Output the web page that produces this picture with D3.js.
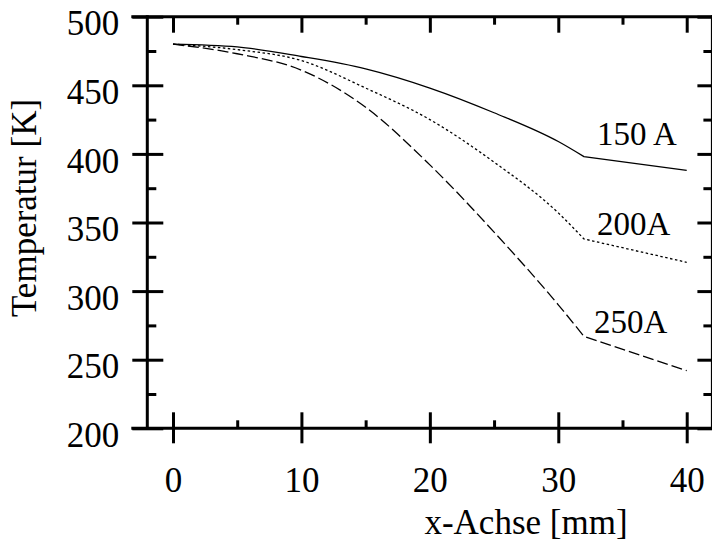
<!DOCTYPE html>
<html>
<head>
<meta charset="utf-8">
<script src="https://cdn.jsdelivr.net/npm/d3@7"></script>
<style>
  html, body { margin: 0; padding: 0; background: #fff; }
  svg { display: block; }
  svg text { fill: #000; }
</style>
</head>
<body>
<svg id="chart" width="712" height="539"></svg>
<script>
// ---- data ----
const xValues      = [0, 5, 10, 15, 20, 25, 30, 32, 40];
const series150A   = [480, 478, 471, 462, 448, 430, 409, 398, 388];
const series200A   = [480, 476, 468, 448, 425, 394, 357, 338, 321];
const series250A   = [480, 473, 461, 434, 392, 343, 290, 267, 242];
const seriesNames  = ["150 A", "200A", "250A"];
const xMajorTicks  = [0, 10, 20, 30, 40];
const xMinorTicks  = [5, 15, 25, 35];
const yMajorTicks  = [200, 250, 300, 350, 400, 450, 500];
const yMinorTicks  = [225, 275, 325, 375, 425, 475];
const xTitle = "x-Achse [mm]";
const yTitle = "Temperatur [K]";

const FONT = "Liberation Serif, DejaVu Serif, Noto Serif, Nimbus Roman, FreeSerif, Times New Roman, Times, serif";

// ---- layout ----
const svg = d3.select("#chart").attr("font-family", FONT);
const x = d3.scaleLinear().domain([-2, 42]).range([147.3, 712.4]);
const y = d3.scaleLinear().domain([200, 500]).range([428.3, 16.7]);
const L = x.range()[0], R = x.range()[1], T = y.range()[1], B = y.range()[0];

const tickFont = 35;

// left axis
const gL = svg.append("g").attr("transform", `translate(${L},0)`)
  .call(d3.axisLeft(y).tickValues(yMajorTicks).tickSizeInner(15).tickSizeOuter(0).tickPadding(13));
gL.attr("font-family", FONT);
gL.select(".domain").remove();
gL.selectAll(".tick line").attr("x1", 16).attr("x2", -15).attr("stroke", "#000").attr("stroke-width", 3);
gL.selectAll(".tick text").attr("font-size", tickFont).attr("dy", "0.52em").attr("x", -28)
  .attr("font-family", FONT);
svg.append("g").attr("transform", `translate(${L},0)`)
  .call(d3.axisRight(y).tickValues(yMinorTicks).tickSize(9).tickFormat(""))
  .call(g => g.select(".domain").remove())
  .selectAll("line").attr("stroke", "#000").attr("stroke-width", 3);

// right axis ticks
svg.append("g").attr("transform", `translate(${R},0)`)
  .call(d3.axisLeft(y).tickValues(yMajorTicks).tickSize(15).tickFormat(""))
  .call(g => g.select(".domain").remove())
  .selectAll("line").attr("stroke", "#000").attr("stroke-width", 3);
svg.append("g").attr("transform", `translate(${R},0)`)
  .call(d3.axisLeft(y).tickValues(yMinorTicks).tickSize(9).tickFormat(""))
  .call(g => g.select(".domain").remove())
  .selectAll("line").attr("stroke", "#000").attr("stroke-width", 3);

// bottom axis
const gB = svg.append("g").attr("transform", `translate(0,${B})`)
  .call(d3.axisBottom(x).tickValues(xMajorTicks).tickSizeInner(15).tickSizeOuter(0));
gB.attr("font-family", FONT);
gB.select(".domain").remove();
gB.selectAll(".tick line").attr("y1", -16).attr("y2", 15).attr("stroke", "#000").attr("stroke-width", 3);
gB.selectAll(".tick text").attr("font-size", tickFont).attr("y", 63.5).attr("dy", 0)
  .attr("font-family", FONT);
svg.append("g").attr("transform", `translate(0,${B})`)
  .call(d3.axisTop(x).tickValues(xMinorTicks).tickSize(8).tickFormat(""))
  .call(g => g.select(".domain").remove())
  .selectAll("line").attr("stroke", "#000").attr("stroke-width", 3);

// top axis ticks
svg.append("g").attr("transform", `translate(0,${T})`)
  .call(d3.axisBottom(x).tickValues(xMajorTicks).tickSize(16).tickFormat(""))
  .call(g => g.select(".domain").remove())
  .selectAll("line").attr("stroke", "#000").attr("stroke-width", 3);
svg.append("g").attr("transform", `translate(0,${T})`)
  .call(d3.axisBottom(x).tickValues(xMinorTicks).tickSize(8).tickFormat(""))
  .call(g => g.select(".domain").remove())
  .selectAll("line").attr("stroke", "#000").attr("stroke-width", 3);

// frame
const frame = svg.append("g").attr("stroke", "#000").attr("stroke-width", 3);
frame.append("line").attr("x1", L - 16).attr("x2", R + 2).attr("y1", T).attr("y2", T);
frame.append("line").attr("x1", L - 16).attr("x2", R + 2).attr("y1", B).attr("y2", B);
frame.append("line").attr("x1", L).attr("x2", L).attr("y1", T - 1.5).attr("y2", B + 1.5);
frame.append("line").attr("x1", R).attr("x2", R).attr("y1", T - 1.5).attr("y2", B + 1.5);

// lines
const allSeries = [series150A, series200A, series250A];
const dashes = [null, "2.5,2.5", "11,4"];
const kinkIdx = xValues.indexOf(32);
const lineGen = d3.line().x(d => x(d[0])).y(d => y(d[1])).curve(d3.curveMonotoneX);
allSeries.forEach((vals, i) => {
  const pts = xValues.map((xv, j) => [xv, vals[j]]);
  const smooth = lineGen(pts.slice(0, kinkIdx + 1));
  const tail = pts.slice(kinkIdx + 1).map(p => `L${x(p[0])},${y(p[1])}`).join("");
  svg.append("path")
    .attr("d", smooth + tail)
    .attr("fill", "none")
    .attr("stroke", "#000")
    .attr("stroke-width", 1.3)
    .attr("stroke-dasharray", dashes[i]);
});

// series labels
const labelPos = [[597, 145], [597, 235], [594, 332.5]];
seriesNames.forEach((n, i) => {
  svg.append("text").attr("x", labelPos[i][0]).attr("y", labelPos[i][1])
    .attr("font-size", 33).attr("font-family", FONT).text(n);
});

// axis titles
svg.append("text").attr("x", 526).attr("y", 533.5).attr("text-anchor", "middle")
  .attr("font-size", 35).attr("font-family", FONT).text(xTitle);
svg.append("text").attr("transform", "translate(36,208) rotate(-90)").attr("text-anchor", "middle")
  .attr("font-size", 35).attr("font-family", FONT).text(yTitle);
</script>
</body>
</html>
